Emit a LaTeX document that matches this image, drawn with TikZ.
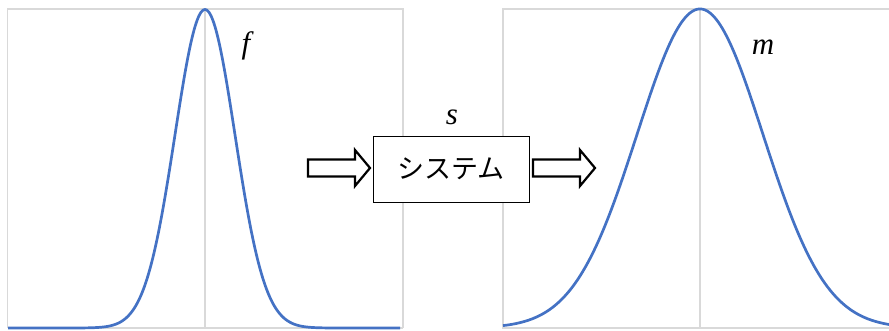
\documentclass[tikz,border=0pt]{standalone}
\usepackage{fontspec}
\newfontfamily\cjk{Noto Sans CJK JP}
\newfontfamily\lblfont{Liberation Serif}
\begin{document}
\begin{tikzpicture}[x=1pt,y=-1pt,
  gridline/.style={draw=black!15, line width=1.3pt},
  curve/.style={draw={rgb,255:red,68;green,114;blue,196}, line width=2.7pt, line join=round},
  barrow/.style={draw=black, fill=white, line width=2.2pt, line join=miter},
  sysbox/.style={draw=black, fill=white, line width=1pt, minimum width=156pt, minimum height=66pt, inner sep=0pt},
  mlabel/.style={inner sep=0pt, font=\lblfont\fontsize{31}{34}\selectfont\itshape}]
\useasboundingbox (0,0) rectangle (889,330);
% left chart frame
\draw[gridline] (7.5,328) -- (7.5,9) -- (403,9) -- (403,328);
\draw[gridline] (205,9) -- (205,328);
\draw[gridline] (7.5,328) -- (403,328);
% right chart frame
\draw[gridline] (889,9) -- (503,9) -- (503,328) -- (889,328);
\draw[gridline] (700,9) -- (700,328);
% curves
\draw[curve] plot[domain=8:400, samples=200, smooth] (\x, {328 - 318.5*exp(-((\x-205)/30)^2/2)});
\draw[curve] plot[domain=503:889, samples=200, smooth] (\x, {328 - 319*exp(-((\x-700)/63)^2/2)});
% labels
\node[mlabel] (f) at (246,46) {f};
\node[mlabel] (m) at (763,47) {m};
\node[mlabel] (s) at (452,117) {s};
% system box
\node[sysbox] (sys) at (451,169) {\cjk\fontsize{27}{30}\selectfont システム};
% block arrows
\coordinate (inA) at (308,168);
\coordinate (outA) at (533,168);
\draw[barrow] (inA) ++(0,-8.5) -- ++(47,0) -- ++(0,-9.5) -- ++(15,18) -- ++(-15,18) -- ++(0,-9.5) -- ++(-47,0) -- cycle;
\draw[barrow] (outA) ++(0,-8.5) -- ++(47,0) -- ++(0,-9.5) -- ++(15,18) -- ++(-15,18) -- ++(0,-9.5) -- ++(-47,0) -- cycle;
\end{tikzpicture}
\end{document}
